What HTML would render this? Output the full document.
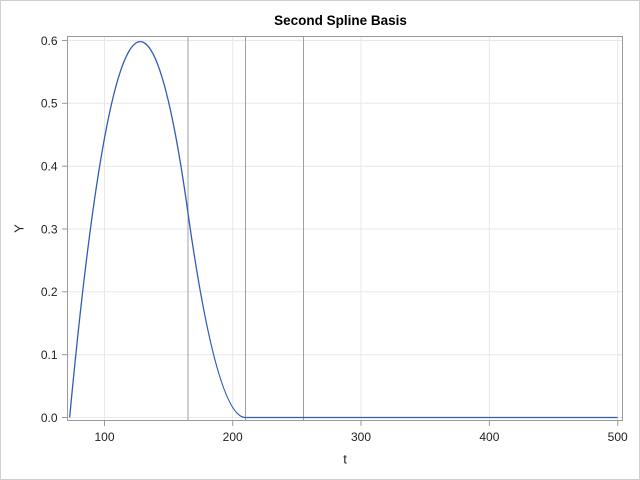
<!DOCTYPE html>
<html>
<head>
<meta charset="utf-8">
<style>
html,body{margin:0;padding:0;background:#fff;}
svg{display:block;}
text{font-family:"Liberation Sans",Arial,sans-serif;}
</style>
</head>
<body>
<svg width="640" height="480" viewBox="0 0 640 480" xmlns="http://www.w3.org/2000/svg">
  <rect x="0" y="0" width="640" height="480" fill="#fff"/>
  <rect x="0.5" y="0.5" width="639" height="479" fill="none" stroke="#d0d0d0" stroke-width="1"/>

  <!-- title -->
  <text x="340.5" y="25" text-anchor="middle" font-size="13.5" font-weight="bold" fill="#000">Second Spline Basis</text>

  <!-- gridlines -->
  <g stroke="#e8e8e8" stroke-width="1">
    <line x1="67.5" x2="622.5" y1="417.5" y2="417.5"/>
    <line x1="67.5" x2="622.5" y1="354.7" y2="354.7"/>
    <line x1="67.5" x2="622.5" y1="291.8" y2="291.8"/>
    <line x1="67.5" x2="622.5" y1="229.0" y2="229.0"/>
    <line x1="67.5" x2="622.5" y1="166.2" y2="166.2"/>
    <line x1="67.5" x2="622.5" y1="103.3" y2="103.3"/>
    <line x1="67.5" x2="622.5" y1="40.5" y2="40.5"/>
    <line x1="104.5" x2="104.5" y1="36.5" y2="420.5"/>
    <line x1="232.7" x2="232.7" y1="36.5" y2="420.5"/>
    <line x1="361.0" x2="361.0" y1="36.5" y2="420.5"/>
    <line x1="489.4" x2="489.4" y1="36.5" y2="420.5"/>
    <line x1="617.7" x2="617.7" y1="36.5" y2="420.5"/>
  </g>

  <!-- knot reference lines -->
  <g stroke="#a0a0a0" stroke-width="1">
    <line x1="188.0" x2="188.0" y1="36.5" y2="420.5"/>
    <line x1="245.5" x2="245.5" y1="36.5" y2="420.5"/>
    <line x1="303.5" x2="303.5" y1="36.5" y2="420.5"/>
  </g>

  <!-- curve -->
  <g transform="matrix(1.2835 0 0 -628.3 -24.05 417.5)">
    <path d="M73 0 Q119 1 165 0.32847 Q187.5 0 210 0 L500 0" fill="none" stroke="#2e5cb8" stroke-width="1.3" vector-effect="non-scaling-stroke"/>
  </g>

  <!-- frame -->
  <rect x="67.5" y="36.5" width="555" height="384" fill="none" stroke="#9a9a9a" stroke-width="1"/>

  <!-- y ticks -->
  <g stroke="#9a9a9a" stroke-width="1">
    <line x1="62" x2="67" y1="417.5" y2="417.5"/>
    <line x1="62" x2="67" y1="354.7" y2="354.7"/>
    <line x1="62" x2="67" y1="291.8" y2="291.8"/>
    <line x1="62" x2="67" y1="229.0" y2="229.0"/>
    <line x1="62" x2="67" y1="166.2" y2="166.2"/>
    <line x1="62" x2="67" y1="103.3" y2="103.3"/>
    <line x1="62" x2="67" y1="40.5" y2="40.5"/>
  </g>
  <g font-size="12" fill="#222" text-anchor="end">
    <text x="57.5" y="421.8">0.0</text>
    <text x="57.5" y="359.0">0.1</text>
    <text x="57.5" y="296.1">0.2</text>
    <text x="57.5" y="233.3">0.3</text>
    <text x="57.5" y="170.5">0.4</text>
    <text x="57.5" y="107.6">0.5</text>
    <text x="57.5" y="44.8">0.6</text>
  </g>

  <!-- x ticks -->
  <g stroke="#9a9a9a" stroke-width="1">
    <line x1="104.5" x2="104.5" y1="421" y2="426"/>
    <line x1="232.7" x2="232.7" y1="421" y2="426"/>
    <line x1="361.0" x2="361.0" y1="421" y2="426"/>
    <line x1="489.4" x2="489.4" y1="421" y2="426"/>
    <line x1="617.7" x2="617.7" y1="421" y2="426"/>
  </g>
  <g font-size="12" fill="#222" text-anchor="middle">
    <text x="104.5" y="441">100</text>
    <text x="232.7" y="441">200</text>
    <text x="361.0" y="441">300</text>
    <text x="489.4" y="441">400</text>
    <text x="617.7" y="441">500</text>
  </g>

  <!-- axis labels -->
  <text x="345" y="463.5" font-size="13" fill="#222" text-anchor="middle">t</text>
  <text x="0" y="0" font-size="13" fill="#222" text-anchor="middle" transform="translate(23.5,228.5) rotate(-90)">Y</text>
</svg>
</body>
</html>
